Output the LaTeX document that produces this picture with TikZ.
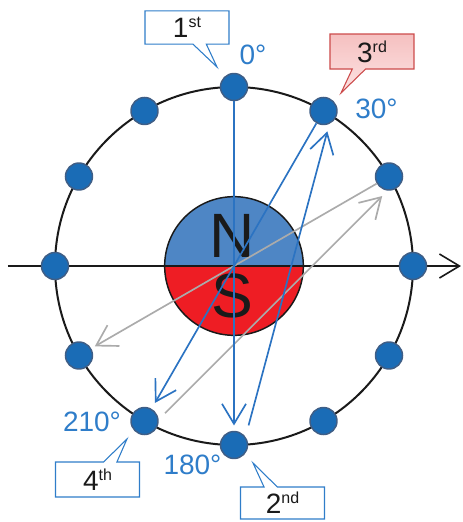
\documentclass[tikz,border=0pt]{standalone}
\usepackage{fontspec}
\setmainfont{Liberation Sans}
\usetikzlibrary{arrows.meta,calc,shapes.callouts}
\definecolor{cmpInk}{HTML}{1A1A1A}
\definecolor{cmpDot}{HTML}{1A6CB6}
\definecolor{cmpDotEdge}{HTML}{3F5E86}
\definecolor{cmpText}{HTML}{2F7DC9}
\definecolor{cmpLine}{HTML}{2B73C2}
\definecolor{cmpGray}{HTML}{ABABAB}
\definecolor{cmpNorth}{HTML}{4E86C5}
\definecolor{cmpSouth}{HTML}{EE1D24}
\definecolor{cmpRose}{HTML}{CC4B4B}
\definecolor{cmpRoseTop}{HTML}{F5C0C0}
\definecolor{cmpRoseBot}{HTML}{FDE4E4}
\newcommand{\ordl}[2]{#1\raisebox{7.5pt}{\fontsize{12}{12}\selectfont #2}}
\tikzset{
    >={Straight Barb[length=15pt,width=18pt]},
    posdot/.style={circle, fill=cmpDot, draw=cmpDotEdge, line width=1.1pt, minimum size=20.25pt, inner sep=0pt},
    ring/.style={circle, draw=cmpInk, line width=1.5pt, minimum size=268.5pt, inner sep=0pt},
    magnet/.style={circle, draw=cmpInk, line width=1.1pt, fill=cmpNorth, minimum size=104pt, inner sep=0pt,
        path picture={\fill[cmpSouth] (path picture bounding box.west) rectangle (path picture bounding box.south east);}},
    deg/.style={text=cmpText, font=\fontsize{21}{25}\selectfont, inner sep=0pt},
    pole/.style={text=cmpInk, font=\fontsize{47}{50}\selectfont, inner sep=0pt},
    tagbox/.style={rectangle callout, draw=cmpText, fill=white, line width=0.8pt, minimum width=63pt, minimum height=25pt, inner sep=0pt, callout pointer width=10pt, font=\fontsize{21}{25}\selectfont, text=cmpInk},
    hotbox/.style={tagbox, draw=cmpRose, top color=cmpRoseTop, bottom color=cmpRoseBot},
    axisarrow/.style={->, line width=1.2pt, draw=cmpInk},
    flowarrow/.style={->, line width=1.25pt, draw=cmpLine},
    grayarrow/.style={->, line width=1.25pt, draw=cmpGray}
}
\begin{document}
\begin{tikzpicture}[x=0.75pt, y=0.75pt]
\useasboundingbox (-234,-256) rectangle (228,266);
\node[ring] (rim) at (0,0) {};
\node[magnet] (mag) at (0,0) {};
\coordinate (axl) at (-226,0);
\coordinate (axr) at (227,0);
\draw[axisarrow] (axl) -- (axr);
\node[pole] (nlab) at (-2,30) {N};
\node[pole] (slab) at (-2,-30) {S};
\foreach \k in {0,...,11}
    \node[posdot] (d\k) at ({90-30*\k}:179) {};
\coordinate (b2s) at ($(d6)!6.75pt!-90:(d1)$);
\coordinate (b2e) at ($(d1)!6.75pt!90:(d6)$);
\coordinate (g1s) at ($(d7)!6.75pt!-90:(d2)$);
\coordinate (g1e) at ($(d2)!6.75pt!90:(d7)$);
\draw[grayarrow, shorten <=15pt, shorten >=14pt] (g1s) -- (g1e);
\draw[grayarrow, shorten >=3pt] (d2) -- (d8);
\draw[flowarrow, shorten >=4pt] (d0) -- (d6);
\draw[flowarrow, shorten <=17pt, shorten >=14pt] (b2s) -- (b2e);
\draw[flowarrow, shorten >=5pt] (d1) -- (d7);
\node[deg] (a0) at (19,211) {0°};
\node[deg] (a30) at (142.5,157) {30°};
\node[deg] (a210) at (-142,-156) {210°};
\node[deg] (a180) at (-41.5,-199) {180°};
\node[tagbox, callout absolute pointer={(-17,199)}] (c1) at (-47,238.5) {\ordl{1}{st}};
\node[hotbox, minimum height=26.25pt, callout absolute pointer={(107,173)}] (c3) at (138,214.5) {\ordl{3}{rd}};
\node[tagbox, minimum height=26.25pt, callout absolute pointer={(-107,-173)}] (c4) at (-136.5,-213.5) {\ordl{4}{th}};
\node[tagbox, minimum height=24pt, callout absolute pointer={(19,-197)}] (c2) at (48.5,-237) {\ordl{2}{nd}};
\end{tikzpicture}
\end{document}
